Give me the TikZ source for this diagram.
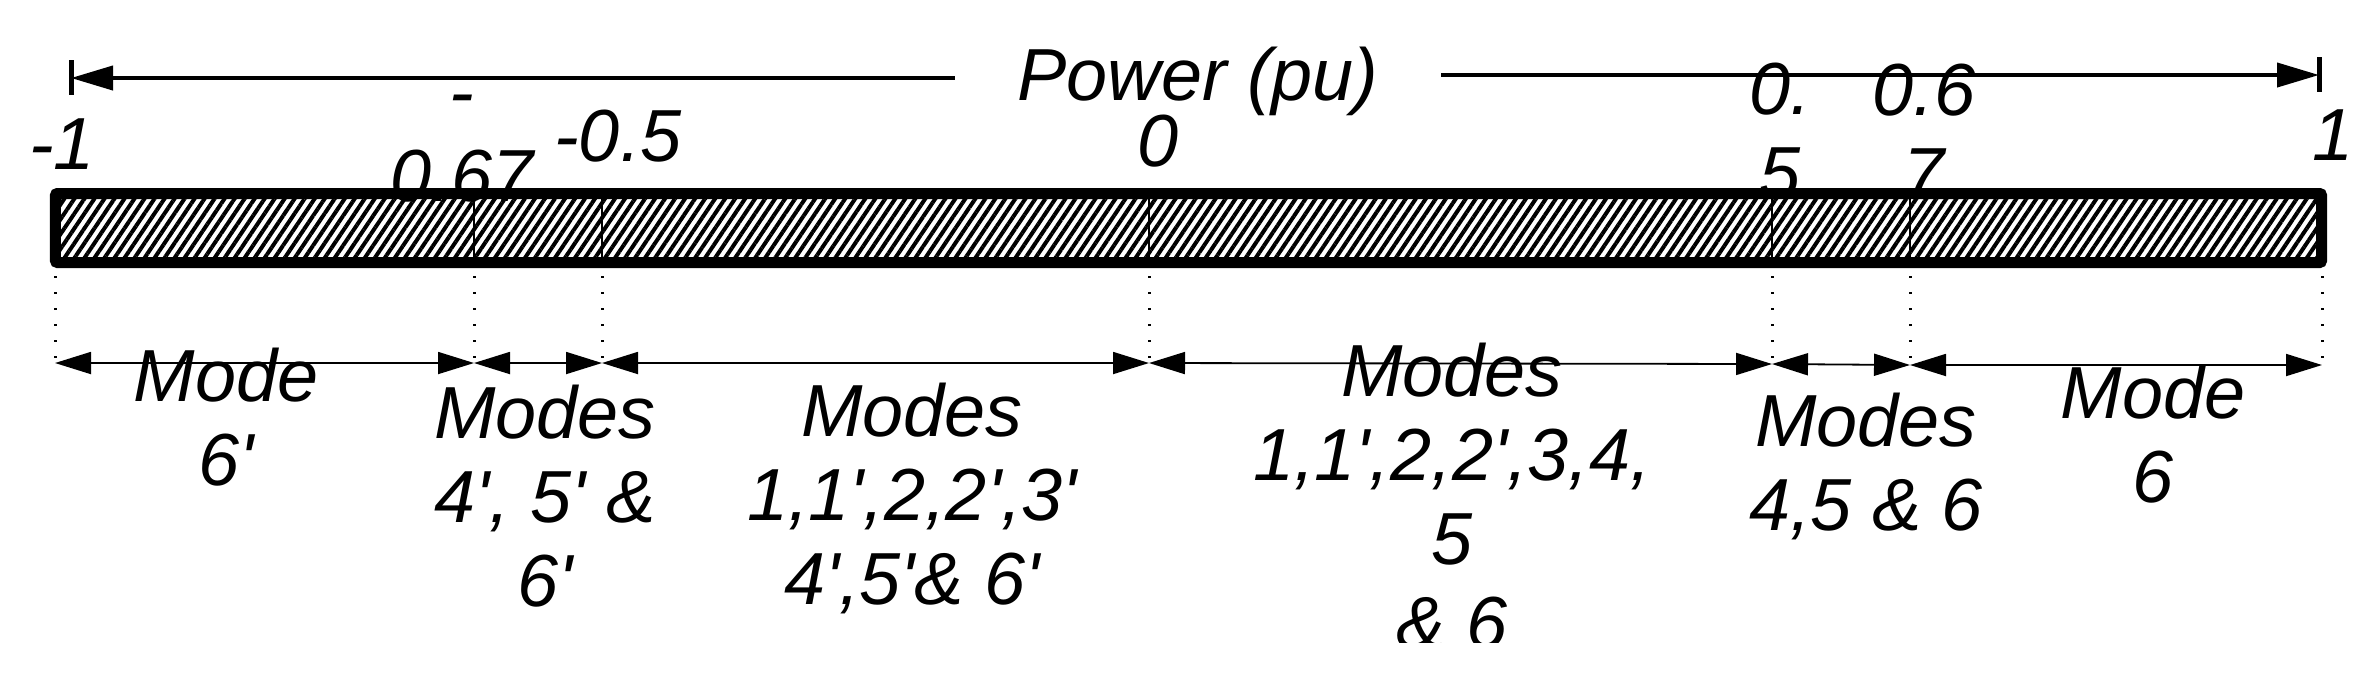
\documentclass[tikz,border=0pt]{standalone}
\usepackage{fontspec}
\newfontfamily\lab{Liberation Sans}
\usetikzlibrary{arrows.meta,patterns.meta}
\begin{document}
\begin{tikzpicture}[
  txt/.style={font=\lab\itshape\fontsize{21}{23.9}\selectfont, inner sep=0pt, align=center},
  toplab/.style={txt, anchor=south},
  modelab/.style={txt, anchor=north},
  bigarr/.style={line width=0.04cm},
  dimarr/.style={line width=0.018cm, {Triangle[length=0.36cm,width=0.22cm]}-{Triangle[length=0.36cm,width=0.22cm]}},
  dotline/.style={line width=0.03cm, dash pattern=on 0.02cm off 0.14cm},
  divider/.style={line width=0.025cm},
  barline/.style={line width=0.05cm},
  powerbar/.style={line width=0.11cm, pattern={Lines[angle=56,distance=0.083cm,line width=0.04cm]}, rounded corners=0.02cm}
]
\useasboundingbox (0,0) rectangle (23.75,-6.80);
\begin{scope}
\clip (0,0) rectangle (23.75,-6.42);

% top axis arrow
\coordinate (tl) at (0.71,-0.78);
\coordinate (tr) at (23.19,-0.75);
\node[txt, anchor=base, inner xsep=0.62cm] (pw) at (11.98,-1.00) {Power (pu)};
\draw[barline] ([yshift=0.18cm]tl) -- ([yshift=-0.17cm]tl);
\draw[barline] ([yshift=0.18cm]tr) -- ([yshift=-0.17cm]tr);
\draw[bigarr, {Triangle[length=0.42cm,width=0.24cm]}-] (tl) -- (tl -| pw.west);
\draw[bigarr, -{Triangle[length=0.42cm,width=0.24cm]}] (tr -| pw.east) -- (tr);

% hatched power bar
\draw[powerbar] (0.555,-1.935) rectangle (23.215,-2.625);
\foreach \x in {4.74,6.02,11.49,17.72,19.10}
  \draw[divider] (\x,-1.99) -- (\x,-2.57);

% dotted guide lines
\foreach \x in {0.55,4.74,6.02,11.49,17.72,19.10,23.22}
  \draw[dotline] (\x,-2.76) -- (\x,-3.58);

% dimension coordinates and arrows
\coordinate (d0) at (0.55,-3.63);
\coordinate (d1) at (4.74,-3.63);
\coordinate (d2) at (6.02,-3.63);
\coordinate (d3) at (11.49,-3.63);
\coordinate (d4) at (17.72,-3.64);
\coordinate (d5) at (19.10,-3.65);
\coordinate (d6) at (23.22,-3.65);
\draw[dimarr] (d0) -- (d1);
\draw[dimarr] (d1) -- (d2);
\draw[dimarr] (d2) -- (d3);
\draw[dimarr] (d3) -- (d4);
\draw[dimarr] (d4) -- (d5);
\draw[dimarr] (d5) -- (d6);

% tick labels
\node[toplab] (lm1) at (0.62,-1.70) {-1};
\node[toplab] (lm067) at (4.62,-2.03) {-\\0.67};
\node[toplab] (lm05) at (6.18,-1.63) {-0.5};
\node[toplab] (l0) at (11.58,-1.68) {0};
\node[toplab] (l05) at (17.80,-2.00) {0.\\5};
\node[toplab] (l067) at (19.24,-2.00) {0.6\\7};
\node[toplab] (l1) at (23.33,-1.61) {1};

% mode labels
\node[modelab] (m1) at (2.26,-3.47) {Mode\\6'};
\node[modelab] (m2) at (5.45,-3.84) {Modes\\4', 5' \&\\6'};
\node[modelab] (m3) at (9.12,-3.82) {Modes\\1,1',2,2',3'\\4',5'\& 6'};
\node[modelab] (m4) at (14.52,-3.42) {Modes\\1,1',2,2',3,4,\\5\\\& 6};
\node[modelab] (m5) at (18.66,-3.92) {Modes\\4,5 \& 6};
\node[modelab] (m6) at (21.53,-3.64) {Mode\\6};
\end{scope}
\end{tikzpicture}
\end{document}
